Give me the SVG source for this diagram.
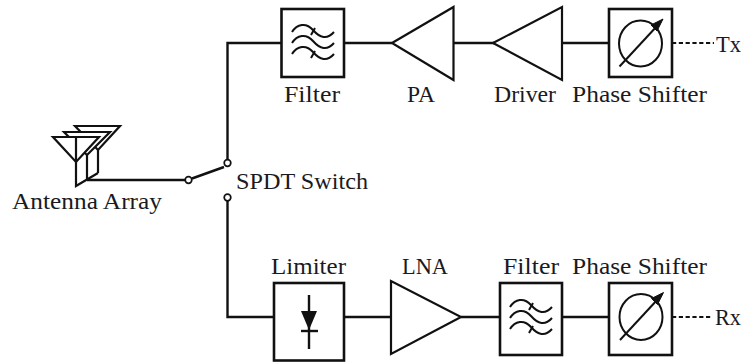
<svg xmlns="http://www.w3.org/2000/svg" xmlns:xlink="http://www.w3.org/1999/xlink" width="743" height="362" viewBox="0 0 743 362">
<style>
.b{fill:#fff;stroke:#111;stroke-width:2.6}
.l{fill:none;stroke:#111;stroke-width:2.4}
.t{fill:#fff;stroke:#111;stroke-width:2.2;stroke-linejoin:miter}
.v{fill:none;stroke:#111;stroke-width:2.2}
.w{fill:none;stroke:#111;stroke-width:2}
.d{fill:none;stroke:#111;stroke-width:2.2;stroke-dasharray:4.2 2.6}
.c{fill:#fff;stroke:#111;stroke-width:1.7}
text{font-family:"Liberation Serif","Times New Roman",serif;font-size:23.5px;fill:#1a1a22}
</style>
<defs>
<g id="waves">
<path class="w" d="M0 11C5 3 14 1 21 9S35 19 42 11"/>
<path class="w" d="M0 22C5 14 14 12 21 20S35 30 42 22"/>
<path class="w" d="M0 33C5 25 14 23 21 31S35 41 42 33"/>
<path class="w" d="M19 14L23 7M19 37L23 30"/>
</g>
<g id="phase">
<ellipse class="w" cx="0" cy="0" rx="21.500" ry="23"/>
<path class="w" stroke-width="2.200" d="M-21 23L17 -18"/>
<path d="M22.500 -24.500L10.500 -18.500L16.500 -12.500Z" fill="#111" stroke="#111"/>
</g>
</defs>
<g id="connectors">
<path class="l" d="M227.500 159V43H281M344 43H392M453 43H494M562 43H609"/>
<path class="l" d="M227.500 201V317H274M344 317H391M461 317H500M562 317H609"/>
<path class="l" d="M87 180H185M192 178.500L224 167"/>
<path class="d" d="M672 43H714M672 317H712"/>
</g>
<g id="antenna-array">
<path class="v" d="M98 126V173"/>
<path class="t" d="M75 126H120L98 150Z"/>
<path class="v" d="M87 132V180"/>
<path class="t" d="M64 132H110L87 155Z"/>
<path class="v" d="M76 137V186L98 173"/>
<path class="t" d="M53 137H99L76 162Z"/>
<path class="v" d="M76 137V162"/>
<text x="12" y="209" textLength="150" lengthAdjust="spacingAndGlyphs">Antenna Array</text>
</g>
<g id="spdt-switch">
<circle class="c" cx="188.500" cy="180" r="3.300"/>
<circle class="c" cx="227.500" cy="163" r="3.300"/>
<circle class="c" cx="227.500" cy="197.500" r="3.300"/>
<text x="236" y="189" textLength="132" lengthAdjust="spacingAndGlyphs">SPDT Switch</text>
</g>
<g id="tx-filter">
<rect class="b" x="281.500" y="9" width="62.500" height="68"/>
<use href="#waves" x="292" y="21"/>
<text x="284" y="102" textLength="56" lengthAdjust="spacingAndGlyphs">Filter</text>
</g>
<g id="pa">
<path class="t" d="M392 43L453.500 7V80Z"/>
<text x="407" y="102" textLength="28" lengthAdjust="spacingAndGlyphs">PA</text>
</g>
<g id="driver">
<path class="t" d="M493 43L562 7V80Z"/>
<text x="494" y="102" textLength="62" lengthAdjust="spacingAndGlyphs">Driver</text>
</g>
<g id="tx-phase-shifter">
<rect class="b" x="609" y="9" width="63" height="68"/>
<use href="#phase" x="640.500" y="43.500"/>
<text x="572" y="102" textLength="135" lengthAdjust="spacingAndGlyphs">Phase Shifter</text>
</g>
<g id="tx-label"><text x="716" y="52" textLength="25" lengthAdjust="spacingAndGlyphs">Tx</text></g>
<g id="limiter">
<rect class="b" x="274" y="283" width="70" height="77.500"/>
<path class="l" d="M309 295V349"/>
<path d="M301 311H317L309 330Z" fill="#111"/>
<path class="l" stroke-width="3" d="M301 331H318"/>
<text x="271" y="274" textLength="75" lengthAdjust="spacingAndGlyphs">Limiter</text>
</g>
<g id="lna">
<path class="t" d="M391 281V354L461 317Z"/>
<text x="402" y="274" textLength="46" lengthAdjust="spacingAndGlyphs">LNA</text>
</g>
<g id="rx-filter">
<rect class="b" x="500" y="283" width="62" height="72"/>
<use href="#waves" x="510" y="296"/>
<text x="503" y="274" textLength="56" lengthAdjust="spacingAndGlyphs">Filter</text>
</g>
<g id="rx-phase-shifter">
<rect class="b" x="609" y="283" width="63" height="72"/>
<use href="#phase" x="641" y="317"/>
<text x="572" y="274" textLength="135" lengthAdjust="spacingAndGlyphs">Phase Shifter</text>
</g>
<g id="rx-label"><text x="715" y="325" textLength="26" lengthAdjust="spacingAndGlyphs">Rx</text></g>
</svg>
